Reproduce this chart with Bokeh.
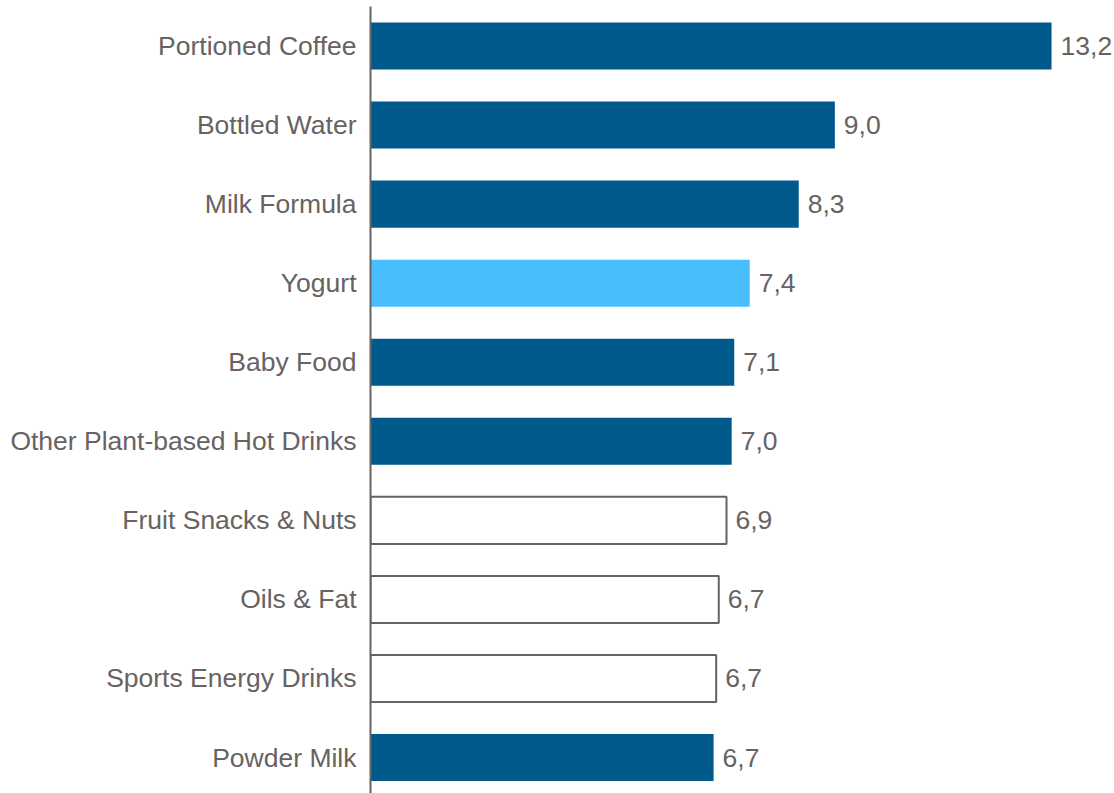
from bokeh.plotting import figure
from bokeh.models import ColumnDataSource, Range1d, FixedTicker
from bokeh.core.properties import value
from bokeh.embed import file_html
from bokeh.resources import INLINE

categories = ["Portioned Coffee", "Bottled Water", "Milk Formula", "Yogurt", "Baby Food",
              "Other Plant-based Hot Drinks", "Fruit Snacks & Nuts", "Oils & Fat",
              "Sports Energy Drinks", "Powder Milk"]
values = [13.2, 9.0, 8.3, 7.35, 7.05, 7.0, 6.9, 6.75, 6.7, 6.65]
labels = ["13,2", "9,0", "8,3", "7,4", "7,1", "7,0", "6,9", "6,7", "6,7", "6,7"]
styles = ["dark", "dark", "dark", "light", "dark", "dark", "outline", "outline", "outline", "dark"]

DARK = "#005B8C"
LIGHT = "#48BEFF"
GRAY = "#686262"
FONT = "Liberation Sans"
SIZE = "26.5px"

pos = list(range(len(categories)))
fills = [DARK if s == "dark" else LIGHT if s == "light" else "white" for s in styles]
line_cols = [GRAY if s == "outline" else f for s, f in zip(styles, fills)]
lw = [2 if s == "outline" else 0 for s in styles]

src = ColumnDataSource(dict(y=pos, val=values, lab=labels, fill=fills, line=line_cols, lw=lw))

p = figure(width=1114, height=793, output_backend="svg", toolbar_location=None,
           y_range=Range1d(9.455, -0.5), x_range=Range1d(0, 14.42),
           min_border_left=370, min_border_right=0, min_border_top=6, min_border_bottom=0)
p.hbar(y="y", right="val", left=0, height=0.595, fill_color="fill", line_color="line",
       line_width="lw", source=src)
p.text(x="val", y="y", text="lab", source=src, x_offset=9, text_baseline="middle",
       text_align="left", text_color=GRAY, text_font=value(FONT), text_font_size=SIZE)

p.xaxis.visible = False
p.xgrid.visible = False
p.ygrid.visible = False
p.outline_line_color = None
p.yaxis.ticker = FixedTicker(ticks=pos)
p.yaxis.major_label_overrides = {i: c for i, c in zip(pos, categories)}
p.yaxis.axis_line_color = GRAY
p.yaxis.axis_line_width = 2
p.yaxis.major_tick_line_color = None
p.yaxis.minor_tick_line_color = None
p.yaxis.major_tick_out = 0
p.yaxis.major_tick_in = 0
p.yaxis.major_label_standoff = 14
p.yaxis.major_label_text_font = FONT
p.yaxis.major_label_text_font_size = SIZE
p.yaxis.major_label_text_color = GRAY
p.background_fill_color = "white"
p.border_fill_color = "white"

open("out.html", "w").write(file_html(p, INLINE))
